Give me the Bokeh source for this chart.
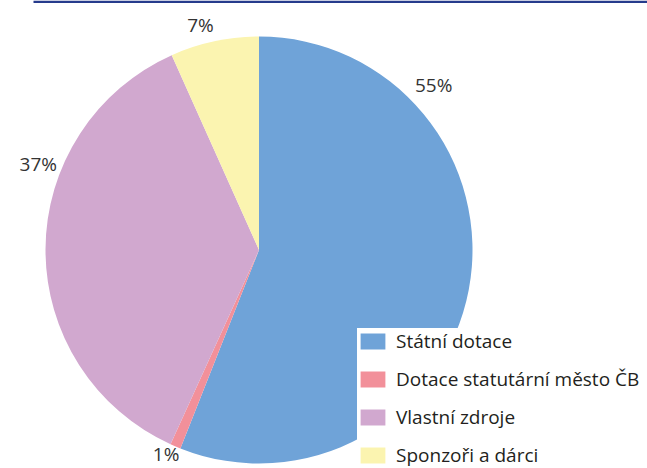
import numpy as np
from bokeh.plotting import figure
from bokeh.models import ColumnDataSource, Range1d, BoxAnnotation
from bokeh.core.properties import value
from bokeh.embed import file_html
from bokeh.resources import INLINE

# ---- data ----
names = ["Státní dotace", "Dotace statutární město ČB", "Vlastní zdroje", "Sponzoři a dárci"]
shares = [56.0, 0.8, 36.5, 6.7]
labels = ["55%", "1%", "37%", "7%"]
colors = ["#6fa3d8", "#f2909a", "#d1a8cf", "#fbf4b0"]
# label placement (degrees clockwise from 12 o'clock, distance in px from centre)
label_angle_deg = [46.7, 204.5, 291.4, 345.4]
label_radius = [240, 224, 237, 232]

W, H = 647, 468
cx, cy, R = 258.5, H - 249.5, 213.5

frac = np.array(shares) / np.sum(shares)
cum = np.concatenate([[0.0], np.cumsum(frac)])
start = np.pi / 2 - cum[1:] * 2 * np.pi
end = np.pi / 2 - cum[:-1] * 2 * np.pi

src = ColumnDataSource(dict(name=names, start=start, end=end, color=colors))

theta = np.radians(label_angle_deg)
lx = cx + np.array(label_radius) * np.sin(theta)
ly = cy + np.array(label_radius) * np.cos(theta)
lsrc = ColumnDataSource(dict(x=lx, y=ly, text=labels))

p = figure(width=W, height=H, x_range=Range1d(0, W), y_range=Range1d(0, H),
           output_backend="svg", toolbar_location=None, min_border=0)
p.axis.visible = False
p.grid.visible = False
p.outline_line_color = None
p.background_fill_color = "white"
p.border_fill_color = "white"

p.wedge(x=cx, y=cy, radius=R, start_angle="start", end_angle="end",
        fill_color="color", line_color=None, source=src, legend_field="name")

p.text(x="x", y="y", text="text", source=lsrc, text_align="center",
       text_baseline="middle", text_font=value("Open Sans"),
       text_font_size="19px", text_color="#333333")

# top rule
p.add_layout(BoxAnnotation(left=33, right=W, bottom=H - 2.5, top=H,
                           fill_color="#263b8c", fill_alpha=1, line_color=None))

lg = p.legend[0]
lg.location = (357, 0)
lg.padding = 9
lg.spacing = 12
lg.margin = 0
lg.glyph_width = 31
lg.glyph_height = 20
lg.label_height = 20
lg.label_standoff = 8
lg.border_line_color = None
lg.background_fill_color = "white"
lg.background_fill_alpha = 1
lg.label_text_font = "Open Sans"
lg.label_text_font_size = "19px"
lg.label_text_color = "#231f20"

open("out.html", "w").write(file_html(p, INLINE))
